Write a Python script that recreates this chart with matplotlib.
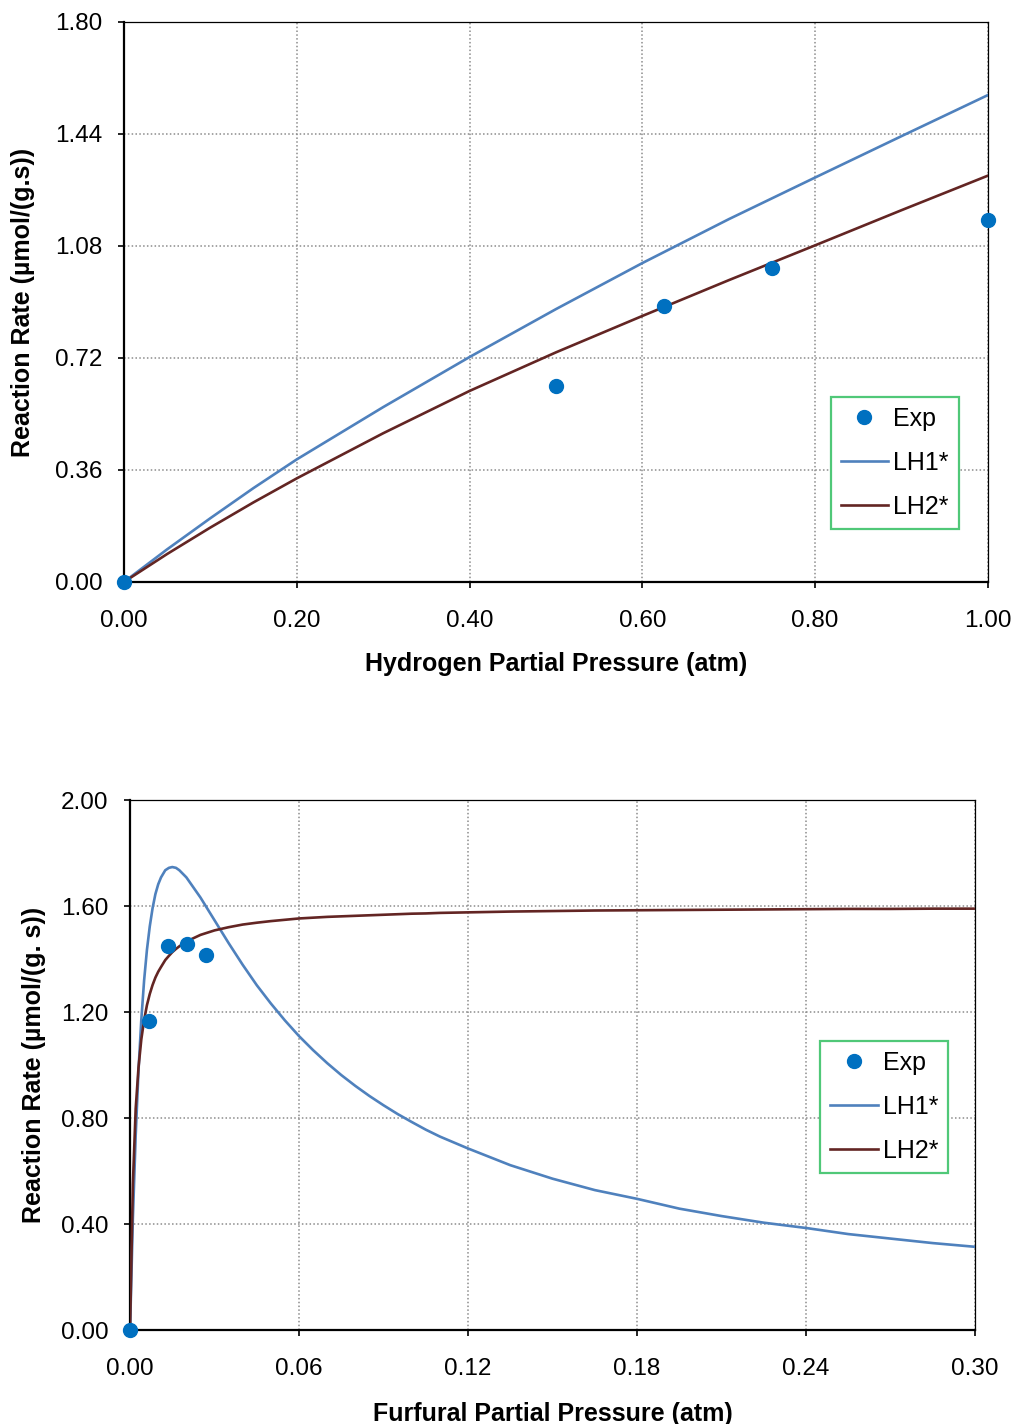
import matplotlib
matplotlib.use("Agg")
import matplotlib.pyplot as plt

plt.rcParams['font.family'] = ['Liberation Sans', 'DejaVu Sans']

# top panel: hydrogen partial pressure
h2_exp_x = [0.0, 0.5, 0.625, 0.75, 1.0]
h2_exp_y = [0.0, 0.63, 0.887, 1.009, 1.164]
h2_fit_x = [0.0, 0.05, 0.1, 0.15, 0.2, 0.3, 0.4, 0.5, 0.6, 0.7, 0.8, 0.9, 1.0]
h2_lh1 = [0.0, 0.105, 0.205, 0.302, 0.394, 0.562, 0.723, 0.877, 1.025, 1.166, 1.300, 1.433, 1.565]
h2_lh2 = [0.0, 0.090, 0.175, 0.256, 0.333, 0.478, 0.614, 0.738, 0.855, 0.970, 1.082, 1.195, 1.306]
h2_xticks = [0.0, 0.2, 0.4, 0.6, 0.8, 1.0]
h2_yticks = [0.0, 0.36, 0.72, 1.08, 1.44, 1.80]

# bottom panel: furfural partial pressure
ff_exp_x = [0.0, 0.00675, 0.0135, 0.02025, 0.027]
ff_exp_y = [0.0, 1.166, 1.449, 1.458, 1.417]
ff_fit_x = [0.0, 0.001, 0.002, 0.003, 0.004, 0.005, 0.006, 0.007, 0.008, 0.009, 0.010,
            0.011, 0.0125, 0.0138, 0.015, 0.0163, 0.0175, 0.020, 0.025, 0.030, 0.035,
            0.040, 0.045, 0.050, 0.055, 0.060, 0.065, 0.070, 0.075, 0.080, 0.085,
            0.090, 0.095, 0.100, 0.105, 0.110, 0.120, 0.135, 0.150, 0.165, 0.180,
            0.195, 0.210, 0.225, 0.240, 0.255, 0.270, 0.285, 0.300]
ff_lh1 = [0.0, 0.42, 0.733, 0.98, 1.171, 1.32, 1.435, 1.523, 1.592, 1.645, 1.682,
          1.708, 1.735, 1.744, 1.747, 1.744, 1.735, 1.708, 1.632, 1.546, 1.460,
          1.378, 1.301, 1.232, 1.168, 1.109, 1.056, 1.007, 0.962, 0.921, 0.883,
          0.848, 0.815, 0.785, 0.756, 0.730, 0.685, 0.622, 0.571, 0.528, 0.495,
          0.458, 0.430, 0.405, 0.385, 0.362, 0.345, 0.328, 0.314]
ff_lh2 = [0.0, 0.55, 0.835, 0.99, 1.097, 1.17, 1.226, 1.268, 1.302, 1.330, 1.352,
          1.370, 1.396, 1.412, 1.426, 1.438, 1.448, 1.466, 1.491, 1.508, 1.520,
          1.530, 1.537, 1.543, 1.548, 1.553, 1.556, 1.559, 1.561, 1.563, 1.565,
          1.567, 1.569, 1.571, 1.572, 1.574, 1.576, 1.579, 1.581, 1.583, 1.584,
          1.585, 1.586, 1.587, 1.588, 1.589, 1.589, 1.590, 1.590]
ff_xticks = [0.0, 0.06, 0.12, 0.18, 0.24, 0.30]
ff_yticks = [0.0, 0.40, 0.80, 1.20, 1.60, 2.00]

EXP_C = '#0070C0'
LH1_C = '#4F81BD'
LH2_C = '#632523'

fig = plt.figure(figsize=(10.16, 14.24), dpi=100)
ax1 = fig.add_axes([0.122, 0.5913, 0.8504, 0.3933])
ax2 = fig.add_axes([0.128, 0.066, 0.8317, 0.3722])


def style_axes(ax, xticks, yticks, xlabel, ylabel, xl_y, yl_x, leg_pos):
    ax.set_xlim(xticks[0], xticks[-1])
    ax.set_ylim(yticks[0], yticks[-1])
    ax.set_xticks(xticks)
    ax.set_yticks(yticks)
    ax.set_xticklabels(['%.2f' % t for t in xticks])
    ax.set_yticklabels(['%.2f' % t for t in yticks])
    ax.grid(True, color='#8c8c8c', linestyle=(0, (1, 1.5)), linewidth=1.1, zorder=0)
    ax.set_axisbelow(True)
    for s in ['left', 'bottom']:
        ax.spines[s].set_linewidth(1.6)
    for s in ['top', 'right']:
        ax.spines[s].set_linewidth(0.9)
    ax.tick_params(axis='x', direction='out', length=4.5, width=1.2, labelsize=17.5, pad=16)
    ax.tick_params(axis='y', direction='out', length=4.5, width=1.2, labelsize=17.5, pad=11)
    ax.set_xlabel(xlabel, fontsize=18, fontweight='bold')
    ax.set_ylabel(ylabel, fontsize=18, fontweight='bold')
    ax.xaxis.set_label_coords(0.5, xl_y)
    ax.yaxis.set_label_coords(yl_x, 0.5)
    leg = ax.legend(loc='upper left', bbox_to_anchor=leg_pos, fontsize=18,
                    frameon=True, fancybox=False, borderaxespad=0,
                    handlelength=1.9, handletextpad=0.2, labelspacing=0.8,
                    borderpad=0.4)
    leg.get_frame().set_edgecolor('#50C878')
    leg.get_frame().set_linewidth(1.6)
    leg.get_frame().set_alpha(1)


ax1.plot(h2_exp_x, h2_exp_y, 'o', color=EXP_C, markersize=10, label='Exp',
         clip_on=False, zorder=5)
ax1.plot(h2_fit_x, h2_lh1, color=LH1_C, linewidth=1.9, label='LH1*', zorder=3)
ax1.plot(h2_fit_x, h2_lh2, color=LH2_C, linewidth=1.9, label='LH2*', zorder=3)
style_axes(ax1, h2_xticks, h2_yticks, 'Hydrogen Partial Pressure (atm)',
           'Reaction Rate (\u00b5mol/(g.s))', -0.125, -0.103, (0.818, 0.330))

ax2.plot(ff_exp_x, ff_exp_y, 'o', color=EXP_C, markersize=10, label='Exp',
         clip_on=False, zorder=5)
ax2.plot(ff_fit_x, ff_lh1, color=LH1_C, linewidth=1.9, label='LH1*', zorder=3)
ax2.plot(ff_fit_x, ff_lh2, color=LH2_C, linewidth=1.9, label='LH2*', zorder=3)
style_axes(ax2, ff_xticks, ff_yticks, 'Furfural Partial Pressure (atm)',
           'Reaction Rate (\u00b5mol/(g. s))', -0.135, -0.099, (0.8166, 0.545))

fig.savefig('out.png', dpi=100)
